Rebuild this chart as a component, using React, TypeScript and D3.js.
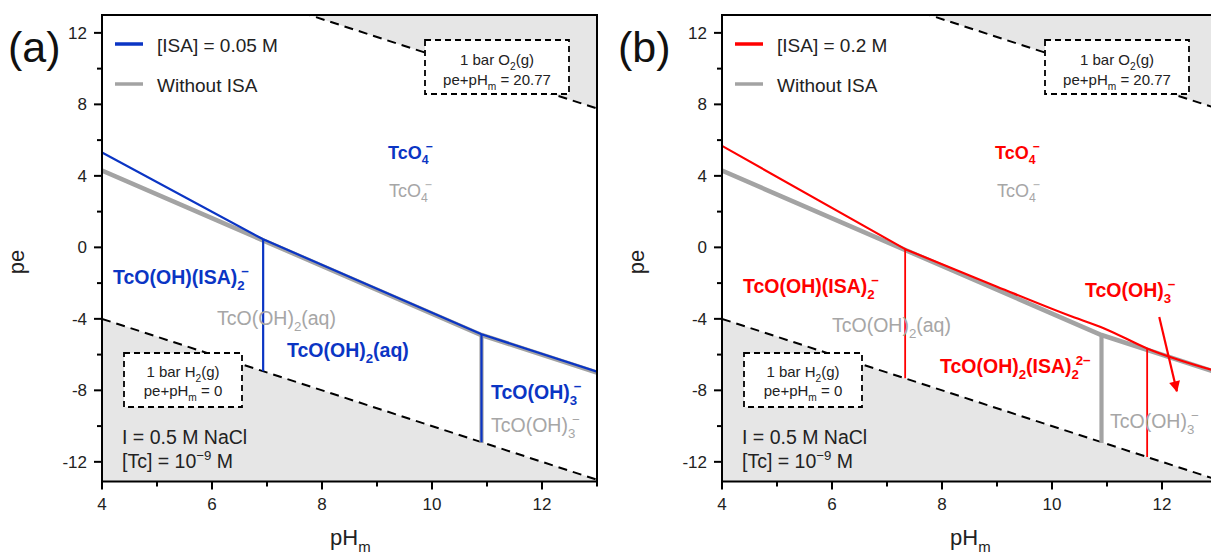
import React from 'react';
import * as d3 from 'd3';

// ---------- data ----------
const xMajorTicks = [4, 6, 8, 10, 12];
const xMinorTicks = [5, 7, 9, 11, 13];
const yMajorTicks = [-12, -8, -4, 0, 4, 8, 12];
const yMinorTicks = [-10, -6, -2, 2, 6, 10];

const O2_LIMIT = 20.77; // pe + pHm
const H2_LIMIT = 0; // pe + pHm

// boundaries [pHm, pe]
const noIsaBoundary: [number, number][] = [[4, 4.34], [10.9, -4.86], [13, -6.96]];
const noIsaVerticals = [10.9];

const isa005Boundary: [number, number][] = [[4, 5.31], [6.93, 0.45], [10.9, -4.86], [13, -6.96]];
const isa005Verticals = [6.93, 10.9];

// [ISA] = 0.2 M: straight part then curved part
const isa02Straight: [number, number][] = [[4, 5.68], [7.33, -0.1]];
const isa02Curved: [number, number][] = [[7.33, -0.1], [9.0, -2.2], [10.3, -3.8], [10.96, -4.55], [11.73, -5.66], [13, -6.94]];
const isa02Verticals = [7.33, 11.73];

const arrowB: [number, number][] = [[11.95, -3.9], [12.27, -8.05]];

// ---------- helpers ----------
const FONT = "'Liberation Sans', Arial, Helvetica, sans-serif";
type Kind = 'n' | 'sub' | 'sup' | 'ss';
type Seg = [string, Kind];

function interp(b: [number, number][], x: number) {
  for (let i = 0; i < b.length - 1; i++) {
    const [x0, y0] = b[i];
    const [x1, y1] = b[i + 1];
    if (x >= x0 && x <= x1) return y0 + ((y1 - y0) * (x - x0)) / (x1 - x0);
  }
  return b[b.length - 1][1];
}

function Rich(props: {
  x: number; y: number; segs: Seg[]; size: number; fill: string; weight?: string | number; anchor?: string;
}) {
  const { x, y, segs, size, fill, weight, anchor } = props;
  let shift = 0;
  let prevSubW = 0;
  const small = size * 0.68;
  const spans = segs.map(([t, k], i) => {
    const target = k === 'sub' ? size * 0.3 : k === 'sup' || k === 'ss' ? -size * 0.42 : 0;
    const dy = target - shift;
    shift = target;
    let dx = 0;
    if (k === 'ss') dx = -prevSubW * 0.45;
    if (k === 'sub') prevSubW = t.length * small * 0.556;
    return (
      <tspan key={i} dy={dy || undefined} dx={dx || undefined} fontSize={k === 'n' ? size : small}>
        {t}
      </tspan>
    );
  });
  return (
    <text x={x} y={y} fill={fill} fontWeight={weight || 'normal'} fontFamily={FONT} fontSize={size} textAnchor={anchor || 'start'}>
      {spans}
    </text>
  );
}

type LabelDef = { dx: number; y: number; segs: Seg[]; size: number; color: string; bold?: boolean };

interface PanelProps {
  id: string;
  x0: number;
  letter: string;
  letterDx: number;
  color: string;
  legend: string;
  boundaryParts: { pts: [number, number][]; curved: boolean }[];
  verticals: number[];
  labels: LabelDef[];
  arrow?: [number, number][];
}

const PLOT_W = 495;
const TOP = 15;
const BOTTOM = 481.5;

function Panel(p: PanelProps) {
  const x = d3.scaleLinear().domain([4, 13]).range([p.x0, p.x0 + PLOT_W]);
  const y = d3.scaleLinear().domain([-13.1, 13]).range([BOTTOM, TOP]);
  const line = d3.line<[number, number]>().x((d) => x(d[0])).y((d) => y(d[1]));
  const curve = d3.line<[number, number]>().x((d) => x(d[0])).y((d) => y(d[1])).curve(d3.curveMonotoneX);

  const o2Poly: [number, number][] = [[4, O2_LIMIT - 4], [13, O2_LIMIT - 13], [13, 20], [4, 20]];
  const h2Poly: [number, number][] = [[4, H2_LIMIT - 4], [13, H2_LIMIT - 13], [13, -20], [4, -20]];
  const o2Line: [number, number][] = [[4, O2_LIMIT - 4], [13, O2_LIMIT - 13]];
  const h2Line: [number, number][] = [[4, H2_LIMIT - 4], [13, H2_LIMIT - 13]];

  const allPts: [number, number][] = p.boundaryParts.flatMap((b) => b.pts);

  const gray = '#a3a3a3';
  const fillGray = '#e6e6e6';
  const clipId = 'clip-' + p.id;
  const markerId = 'arrow-' + p.id;

  const boxO2 = { x: p.x0 + 323, y: 40, w: 144, h: 54 };
  const boxH2 = { x: p.x0 + 22, y: 353, w: 118, h: 54 };

  return (
    <g>
      <defs>
        <clipPath id={clipId}>
          <rect x={p.x0} y={TOP} width={PLOT_W} height={BOTTOM - TOP} />
        </clipPath>
        <marker id={markerId} viewBox="0 0 10 10" refX="9" refY="5" markerWidth="5.5" markerHeight="5" orient="auto" markerUnits="strokeWidth">
          <path d="M0,0 L10,5 L0,10 z" fill={p.color} />
        </marker>
      </defs>
      <g clipPath={`url(#${clipId})`}>
        <path d={line(o2Poly) || ''} fill={fillGray} />
        <path d={line(h2Poly) || ''} fill={fillGray} />
        <path d={line(o2Line) || ''} stroke="#000" strokeWidth={2} strokeDasharray="9,6" fill="none" />
        <path d={line(h2Line) || ''} stroke="#000" strokeWidth={2} strokeDasharray="9,6" fill="none" />

        {/* gray boundaries (no ISA) */}
        <g transform="translate(0,0.8)">
          <path d={line(noIsaBoundary) || ''} stroke={gray} strokeWidth={4.6} fill="none" strokeLinejoin="round" />
          {noIsaVerticals.map((v) => (
            <line key={v} x1={x(v)} x2={x(v)} y1={y(interp(noIsaBoundary, v))} y2={y(H2_LIMIT - v)} stroke={gray} strokeWidth={4.2} />
          ))}
        </g>

        {/* ISA boundaries */}
        {p.boundaryParts.map((b, i) => (
          <path key={i} d={(b.curved ? curve(b.pts) : line(b.pts)) || ''} stroke={p.color} strokeWidth={2.2} fill="none" strokeLinejoin="round" strokeLinecap="round" />
        ))}
        {p.verticals.map((v) => (
          <line key={v} x1={x(v)} x2={x(v)} y1={y(interp(allPts, v))} y2={y(H2_LIMIT - v)} stroke={p.color} strokeWidth={p.id === 'a' ? 2.2 : 1.8} />
        ))}
      </g>

      {/* boxes */}
      <rect x={boxO2.x} y={boxO2.y} width={boxO2.w} height={boxO2.h} fill="#fff" stroke="#000" strokeWidth={1.8} strokeDasharray="6,4" />
      <Rich x={boxO2.x + boxO2.w / 2} y={65} segs={[['1 bar O', 'n'], ['2', 'sub'], ['(g)', 'n']]} size={15} fill="#222" anchor="middle" />
      <Rich x={boxO2.x + boxO2.w / 2} y={85} segs={[['pe+pH', 'n'], ['m', 'sub'], [' = 20.77', 'n']]} size={15} fill="#222" anchor="middle" />

      <rect x={boxH2.x} y={boxH2.y} width={boxH2.w} height={boxH2.h} fill="#fff" stroke="#000" strokeWidth={1.8} strokeDasharray="6,4" />
      <Rich x={boxH2.x + boxH2.w / 2} y={377} segs={[['1 bar H', 'n'], ['2', 'sub'], ['(g)', 'n']]} size={15} fill="#222" anchor="middle" />
      <Rich x={boxH2.x + boxH2.w / 2} y={396} segs={[['pe+pH', 'n'], ['m', 'sub'], [' = 0', 'n']]} size={15} fill="#222" anchor="middle" />

      <Rich x={p.x0 + 20} y={444} segs={[['I = 0.5 M NaCl', 'n']]} size={19.5} fill="#222" />
      <Rich x={p.x0 + 20} y={468} segs={[['[Tc] = 10', 'n'], ['−9', 'sup'], [' M', 'n']]} size={19.5} fill="#222" />

      {/* legend */}
      <line x1={p.x0 + 13} x2={p.x0 + 41} y1={44} y2={44} stroke={p.color} strokeWidth={3.5} />
      <text x={p.x0 + 55} y={52} fontFamily={FONT} fontSize={19} fill="#222">{p.legend}</text>
      <line x1={p.x0 + 13} x2={p.x0 + 41} y1={84} y2={84} stroke={gray} strokeWidth={3.5} />
      <text x={p.x0 + 55} y={92} fontFamily={FONT} fontSize={19} fill="#222">Without ISA</text>

      {/* labels */}
      {p.labels.map((l, i) => (
        <Rich key={i} x={p.x0 + l.dx} y={l.y} segs={l.segs} size={l.size} fill={l.color} weight={l.bold ? 'bold' : 'normal'} />
      ))}

      {p.arrow && (
        <line x1={x(p.arrow[0][0])} y1={y(p.arrow[0][1])} x2={x(p.arrow[1][0])} y2={y(p.arrow[1][1])} stroke={p.color} strokeWidth={2.2} markerEnd={`url(#${markerId})`} />
      )}

      {/* frame */}
      <rect x={p.x0} y={TOP} width={PLOT_W} height={BOTTOM - TOP} fill="none" stroke="#000" strokeWidth={2} />

      {/* axis ticks */}
      {xMajorTicks.map((t) => (
        <g key={'xm' + t}>
          <line x1={x(t)} x2={x(t)} y1={BOTTOM} y2={BOTTOM + 8} stroke="#000" strokeWidth={2} />
          <text x={x(t)} y={510} textAnchor="middle" fontFamily={FONT} fontSize={17} fill="#222">{t}</text>
        </g>
      ))}
      {xMinorTicks.map((t) => (
        <line key={'xn' + t} x1={x(t)} x2={x(t)} y1={BOTTOM} y2={BOTTOM + 5} stroke="#000" strokeWidth={2} />
      ))}
      {yMajorTicks.map((t) => (
        <g key={'ym' + t}>
          <line x1={p.x0 - 8} x2={p.x0} y1={y(t)} y2={y(t)} stroke="#000" strokeWidth={2} />
          <text x={p.x0 - 15} y={y(t) + 6} textAnchor="end" fontFamily={FONT} fontSize={17} fill="#222">{t}</text>
        </g>
      ))}
      {yMinorTicks.map((t) => (
        <line key={'yn' + t} x1={p.x0 - 5} x2={p.x0} y1={y(t)} y2={y(t)} stroke="#000" strokeWidth={2} />
      ))}

      {/* axis titles */}
      <text transform={`translate(${p.x0 - 78},262) rotate(-90)`} textAnchor="middle" fontFamily={FONT} fontSize={22} fill="#222">pe</text>
      <Rich x={p.x0 + 228} y={545} segs={[['pH', 'n'], ['m', 'sub']]} size={22} fill="#222" />

      {/* panel letter */}
      <text x={p.x0 + p.letterDx} y={62} fontFamily={FONT} fontSize={43} fill="#111">{p.letter}</text>
    </g>
  );
}

const BLUE = '#0b35c4';
const RED = '#ff0000';
const GT = '#a6a6a6';

const labelsA: LabelDef[] = [
  { dx: 286, y: 159, segs: [['TcO', 'n'], ['4', 'sub'], ['−', 'ss']], size: 18, color: BLUE, bold: true },
  { dx: 287, y: 197, segs: [['TcO', 'n'], ['4', 'sub'], ['−', 'ss']], size: 18, color: GT },
  { dx: 11, y: 284, segs: [['TcO(OH)(ISA)', 'n'], ['2', 'sub'], ['−', 'ss']], size: 19.5, color: BLUE, bold: true },
  { dx: 115, y: 325, segs: [['TcO(OH)', 'n'], ['2', 'sub'], ['(aq)', 'n']], size: 19.5, color: GT },
  { dx: 185, y: 357, segs: [['TcO(OH)', 'n'], ['2', 'sub'], ['(aq)', 'n']], size: 19.5, color: BLUE, bold: true },
  { dx: 389, y: 399, segs: [['TcO(OH)', 'n'], ['3', 'sub'], ['−', 'ss']], size: 19.5, color: BLUE, bold: true },
  { dx: 389, y: 432, segs: [['TcO(OH)', 'n'], ['3', 'sub'], ['−', 'ss']], size: 19.5, color: GT },
];

const labelsB: LabelDef[] = [
  { dx: 273, y: 159, segs: [['TcO', 'n'], ['4', 'sub'], ['−', 'ss']], size: 18, color: RED, bold: true },
  { dx: 275, y: 197, segs: [['TcO', 'n'], ['4', 'sub'], ['−', 'ss']], size: 18, color: GT },
  { dx: 21, y: 293, segs: [['TcO(OH)(ISA)', 'n'], ['2', 'sub'], ['−', 'ss']], size: 19.5, color: RED, bold: true },
  { dx: 110, y: 332, segs: [['TcO(OH)', 'n'], ['2', 'sub'], ['(aq)', 'n']], size: 19.5, color: GT },
  { dx: 218, y: 373, segs: [['TcO(OH)', 'n'], ['2', 'sub'], ['(ISA)', 'n'], ['2', 'sub'], ['2−', 'ss']], size: 19.5, color: RED, bold: true },
  { dx: 363, y: 297, segs: [['TcO(OH)', 'n'], ['3', 'sub'], ['−', 'ss']], size: 19.5, color: RED, bold: true },
  { dx: 388, y: 428, segs: [['TcO(OH)', 'n'], ['3', 'sub'], ['−', 'ss']], size: 19.5, color: GT },
];

export default function App() {
  return (
    <svg width={1211} height={555} style={{ position: 'absolute', left: 0, top: 0, background: '#fff' }}>
      <rect x={0} y={0} width={1211} height={555} fill="#fff" />
      <Panel id="a" x0={102} letter="(a)" letterDx={-94} color={BLUE} legend="[ISA] = 0.05 M"
        boundaryParts={[{ pts: isa005Boundary, curved: false }]} verticals={isa005Verticals} labels={labelsA} />
      <Panel id="b" x0={722} letter="(b)" letterDx={-104} color={RED} legend="[ISA] = 0.2 M"
        boundaryParts={[{ pts: isa02Straight, curved: false }, { pts: isa02Curved, curved: true }]}
        verticals={isa02Verticals} labels={labelsB} arrow={arrowB} />
    </svg>
  );
}
